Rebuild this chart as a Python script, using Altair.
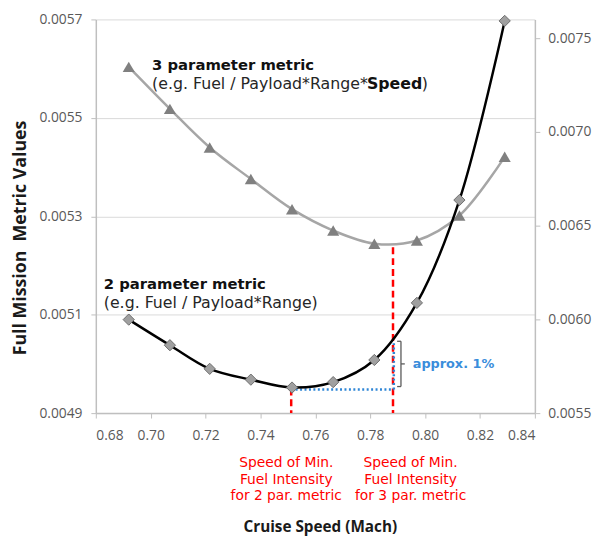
import altair as alt
import pandas as pd

# ---- data ----
mach = [0.692, 0.707, 0.7215, 0.7365, 0.7515, 0.7665, 0.7815, 0.797, 0.8125, 0.829]
two_par = [0.005090, 0.005038, 0.004990, 0.004968, 0.004952, 0.004963, 0.005008, 0.005124, 0.005333, 0.005697]
three_par = [0.007347, 0.007123, 0.006917, 0.006749, 0.006588, 0.006474, 0.006404, 0.006421, 0.006554, 0.006867]

x_ticks = [0.68, 0.70, 0.72, 0.74, 0.76, 0.78, 0.80, 0.82, 0.84]
left_ticks = [0.0049, 0.0051, 0.0053, 0.0055, 0.0057]
right_ticks = [0.0055, 0.0060, 0.0065, 0.0070, 0.0075]

min2_mach = 0.7512
min2_val = 0.00495
min3_mach = 0.7883
min3_top = 0.005237
blue_val = 0.004948
curve_at_min3 = 0.005047

red_labels = ["Speed of Min.\nFuel Intensity\nfor 2 par. metric",
              "Speed of Min.\nFuel Intensity\nfor 3 par. metric"]
red_label_x = [0.7494, 0.7947]

W, H = 445, 399

xscale = alt.Scale(domain=[0.68, 0.84], nice=False, zero=False)
lscale = alt.Scale(domain=[0.0049, 0.0057], nice=False, zero=False)
rscale = alt.Scale(domain=[0.0055, 0.0076], nice=False, zero=False)

x_axis = alt.Axis(values=x_ticks, format=".2f", title="Cruise Speed (Mach)", grid=False,
                  labelPadding=11, titleY=115, titleX=227, titleBaseline="middle",
                  titleFont="Open Sans", titleFontSize=15.5, titleFontWeight="bold", titleColor="#1a1a1a")
left_axis = alt.Axis(values=left_ticks, format=".4f", title="Full Mission\u00a0\u00a0Metric Values",
                     grid=True, gridColor="#d9d9d9", labelPadding=9,
                     titleX=-76, titleY=221, titleAngle=270, titleAlign="center", titleBaseline="middle",
                     titleFont="Open Sans", titleFontSize=18, titleFontWeight="bold", titleColor="#1a1a1a")
right_axis = alt.Axis(values=right_ticks, format=".4f", title=None, orient="right", grid=False,
                      labelPadding=8)

X = alt.X("mach:Q", scale=xscale, axis=x_axis)
YL = alt.Y("v:Q", scale=lscale, axis=left_axis)
YR = alt.Y("v:Q", scale=rscale, axis=right_axis)

df2 = pd.DataFrame({"mach": mach, "v": two_par})
df3 = pd.DataFrame({"mach": mach, "v": three_par})

# left-scale layers
line2 = alt.Chart(df2).mark_line(color="#000000", strokeWidth=2.5, interpolate="catmull-rom").encode(x=X, y=YL)
pts2 = alt.Chart(df2).mark_point(shape="diamond", filled=True, size=130, fill="#a0a0a0",
                                 stroke="#6e6e6e", strokeWidth=1, opacity=1).encode(x=X, y=YL)

red_df = pd.DataFrame({"mach": [min2_mach, min3_mach], "v": [min2_val, min3_top], "v2": [0.0049, 0.0049]})
red_rules = alt.Chart(red_df).mark_rule(color="#ff0000", strokeWidth=2.5, strokeDash=[7, 4]).encode(
    x=X, y=YL, y2="v2:Q")

blue_h = alt.Chart(pd.DataFrame({"mach": [min2_mach], "mach2": [min3_mach + 0.0003], "v": [blue_val]})).mark_rule(
    color="#2f86d6", strokeWidth=2.5, strokeDash=[2, 2.5]).encode(x=X, x2="mach2:Q", y=YL)
blue_v = alt.Chart(pd.DataFrame({"mach": [min3_mach + 0.0003], "v": [blue_val], "v2": [curve_at_min3]})).mark_rule(
    color="#2f86d6", strokeWidth=2.5, strokeDash=[2, 2.5]).encode(x=X, y=YL, y2="v2:Q")

br_v = alt.Chart(pd.DataFrame({"mach": [0.7912], "v": [0.004954], "v2": [0.005046]})).mark_rule(
    color="#595959", strokeWidth=1.3).encode(x=X, y=YL, y2="v2:Q")
br_h = alt.Chart(pd.DataFrame({"mach": [0.7898, 0.7898, 0.7912], "mach2": [0.7912, 0.7912, 0.7926],
                               "v": [0.005046, 0.004954, 0.005000]})).mark_rule(
    color="#595959", strokeWidth=1.3).encode(x=X, x2="mach2:Q", y=YL)

approx = alt.Chart(pd.DataFrame({"mach": [0.7955], "v": [0.005000], "t": ["approx. 1%"]})).mark_text(
    align="left", baseline="middle", font="DejaVu Sans", fontSize=13, fontWeight="bold", color="#3a8ddb"
).encode(x=X, y=YL, text="t:N")

t3 = alt.Chart(pd.DataFrame({"mach": [0.7005], "v": [0.005608], "t": ["3 parameter metric"]})).mark_text(
    align="left", baseline="middle", font="DejaVu Sans", fontSize=15, fontWeight="bold", color="#111111"
).encode(x=X, y=YL, text="t:N")
s3a = alt.Chart(pd.DataFrame({"mach": [0.7005], "v": [0.005568], "t": ["(e.g. Fuel / Payload*Range*"]})).mark_text(
    align="left", baseline="middle", font="DejaVu Sans", fontSize=16, color="#262626"
).encode(x=X, y=YL, text="t:N")
s3b = alt.Chart(pd.DataFrame({"mach": [0.7788], "v": [0.005568], "t": ["Speed"]})).mark_text(
    align="left", baseline="middle", font="DejaVu Sans", fontSize=16, fontWeight="bold", color="#111111"
).encode(x=X, y=YL, text="t:N")
s3c = alt.Chart(pd.DataFrame({"mach": [0.7988], "v": [0.005568], "t": [")"]})).mark_text(
    align="left", baseline="middle", font="DejaVu Sans", fontSize=16, color="#262626"
).encode(x=X, y=YL, text="t:N")

t2 = alt.Chart(pd.DataFrame({"mach": [0.6829], "v": [0.005163], "t": ["2 parameter metric"]})).mark_text(
    align="left", baseline="middle", font="DejaVu Sans", fontSize=15, fontWeight="bold", color="#111111"
).encode(x=X, y=YL, text="t:N")
s2 = alt.Chart(pd.DataFrame({"mach": [0.6829], "v": [0.005123], "t": ["(e.g. Fuel / Payload*Range)"]})).mark_text(
    align="left", baseline="middle", font="DejaVu Sans", fontSize=16, color="#262626"
).encode(x=X, y=YL, text="t:N")

red_txt = alt.Chart(pd.DataFrame({"mach": red_label_x, "t": red_labels})).mark_text(
    align="center", baseline="top", lineBreak="\n", lineHeight=16.5, font="DejaVu Sans", fontSize=14,
    color="#ff0000"
).encode(x=X, y=alt.value(443), text="t:N")

left_group = alt.layer(red_rules, blue_h, blue_v, br_v, br_h, line2, pts2, approx,
                       t3, s3a, s3b, s3c, t2, s2, red_txt)

# right-scale layers
line3 = alt.Chart(df3).mark_line(color="#a6a6a6", strokeWidth=2.5, interpolate="catmull-rom").encode(x=X, y=YR)
pts3 = alt.Chart(df3).mark_point(shape="triangle-up", filled=True, size=150, fill="#808080",
                                 opacity=1).encode(x=X, y=YR)
right_group = alt.layer(line3, pts3)

chart = alt.layer(right_group, left_group).resolve_scale(y="independent").properties(
    width=W, height=H,
    autosize=alt.AutoSizeParams(type="none"),
    padding={"left": 89, "top": 8, "right": 66, "bottom": 125},
).configure_view(stroke=None).configure_axis(
    labelFont="Open Sans", labelFontSize=14, labelColor="#595959",
    domainColor="#bfbfbf", tickColor="#bfbfbf", tickSize=5, domainWidth=1.5,
)

chart.save("out.html", embed_options={"renderer": "svg", "actions": False})
